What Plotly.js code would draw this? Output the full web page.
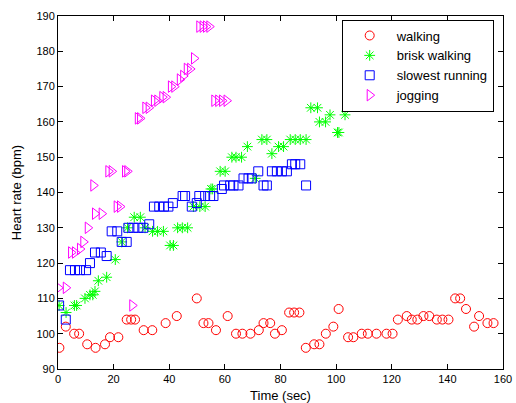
<!DOCTYPE html>
<html>
<head>
<meta charset="utf-8">
<script src="https://cdn.plot.ly/plotly-3.0.1.min.js"></script>
<style>html,body{margin:0;padding:0;background:#fff;}#chart{width:516px;height:403px;}</style>
</head>
<body>
<div id="chart"></div>
<script>
// walking
const walkT = [0.5,2.8,5.8,7.6,10.5,13.5,16.9,18.7,21.7,24.7,26.3,27.7,30.8,33.9,38.7,42.7,49.9,52.3,54.1,56.8,61,64,66.3,69.2,72.2,73.9,76.3,78,80.5,83.1,84.9,86.8,89.1,92.1,94,96.3,99,100.9,104.3,106.2,109.2,111.4,114.5,118.1,120.3,122.2,125.4,127.2,129.2,131.4,133.5,136.2,138.2,140.4,142.8,144.6,146.7,149.6,151.4,154.4,156.6];
const walkHR = [96,102,100,100,97,96,97,99,99,104,104,104,101,101,103,105,110,103,103,101,105,100,100,100,101,103,103,100,101,106,106,106,96,97,97,100,102,107,99,99,100,100,100,100,100,104,105,104,104,105,105,104,104,104,110,110,107,102,105,103,103];

// brisk walking
const briskT = [0.4,2.9,5.9,6.7,9.7,11.5,12.5,13.3,14.5,17.5,20.6,22.9,25,27.4,29.6,31.3,34,35.8,37.9,40.3,41.5,43,44.7,46.6,48.7,51,52.9,55,55.6,58.3,60.1,62.5,64,66,68.1,70.9,73.3,75.1,76.9,79.3,81.1,83.5,85.3,87.1,89.2,90.9,93.3,94,96.2,97.8,100.5,101,103.2];
const briskHR = [108,106,108,108,110,111,111,112,115,116,121,126,130,133,133,130,129,129,129,125,125,130,130,130,136,136,136,141,141,146,146,150,150,150,153,144,155,155,151,153,153,155,155,155,155,164,164,160,160,162,157,157,162];

// slowest running
const slowT = [0.4,2.8,4.3,6.1,7.9,10.1,11.5,13.3,15.4,17.5,19.3,21.3,22.9,24.7,25.3,27.1,28.9,30.7,32.8,34.5,36.4,38.1,39.7,41.3,44.8,45.7,48.1,49.9,50.8,52.9,54.7,55.9,58.9,59.7,61.9,63.1,64.9,66.7,68.5,69.7,72,73.9,75.1,76.9,78.7,80.5,82.3,84.1,85.3,87.1,89.2];
const slowHR = [108,104,118,118,118,118,120,123,123,122,129,129,126,126,130,130,130,130,131,136,136,136,136,137,139,139,136,137,139,139,139,139,141,142,142,142,142,144,144,144,146,142,142,146,146,146,146,148,148,148,142];

// jogging
const jogT = [0.1,2.8,4.7,6.1,7.9,9.1,10.7,12.7,13.3,15.7,18.1,19.3,21.1,22.3,24.1,24.9,26.7,28.7,29.5,31.4,32.6,34.5,35.7,37.5,38.7,40.6,41.8,43.8,45,46.3,47.5,48.9,50.8,52,53.2,54.4,56.2,57.6,59,60.6];
const jogHR = [113,113,123,123,124,126,130,142,134,134,146,146,136,136,146,146,108,161,161,164,164,166,166,167,167,170,170,172,173,175,175,178,187,187,187,187,166,166,166,166];

const names = ['walking','brisk walking','slowest running','jogging'];
const FONT = 'Liberation Sans, Arial, Helvetica, sans-serif';

function tr(x, y, name, symbol, color, size) {
  return {x: x, y: y, name: name, type: 'scatter', mode: 'markers',
    marker: {symbol: symbol, size: size, color: color, line: {color: color, width: 1}}};
}

const data = [
  tr(walkT, walkHR, names[0], 'circle-open', '#ff0000', 9),
  tr(briskT, briskHR, names[1], 'asterisk-open', '#00ff00', 9),
  tr(slowT, slowHR, names[2], 'square-open', '#0000ff', 9),
  tr(jogT, jogHR, names[3], 'triangle-right-open', '#ff00ff', 10)
];

const axisCommon = {
  showgrid: false, zeroline: false, showline: true, linecolor: '#000', linewidth: 1,
  mirror: 'ticks', ticks: 'inside', ticklen: 5, tickcolor: '#000', tickwidth: 1,
  tickfont: {family: FONT, size: 11, color: '#000'}
};

const layout = {
  width: 516, height: 403,
  margin: {l: 58, r: 13, t: 16, b: 34},
  paper_bgcolor: '#fff', plot_bgcolor: '#fff',
  font: {family: FONT, color: '#000'},
  xaxis: Object.assign({}, axisCommon, {range: [0, 160], dtick: 20, tick0: 0,
    title: {text: 'Time (sec)', font: {family: FONT, size: 13, color: '#000'}, standoff: 7}}),
  yaxis: Object.assign({}, axisCommon, {range: [90, 190], dtick: 10, tick0: 90,
    title: {text: 'Heart rate (bpm)', font: {family: FONT, size: 13, color: '#000'}, standoff: 11}}),
  showlegend: true,
  legend: {x: 0.6375, y: 0.99, xanchor: 'left', yanchor: 'top',
    bgcolor: '#fff', bordercolor: '#000', borderwidth: 1,
    font: {family: FONT, size: 13, color: '#000'}, itemwidth: 44, tracegroupgap: 0}
};

Plotly.newPlot('chart', data, layout, {displayModeBar: false, staticPlot: true});
</script>
</body>
</html>
